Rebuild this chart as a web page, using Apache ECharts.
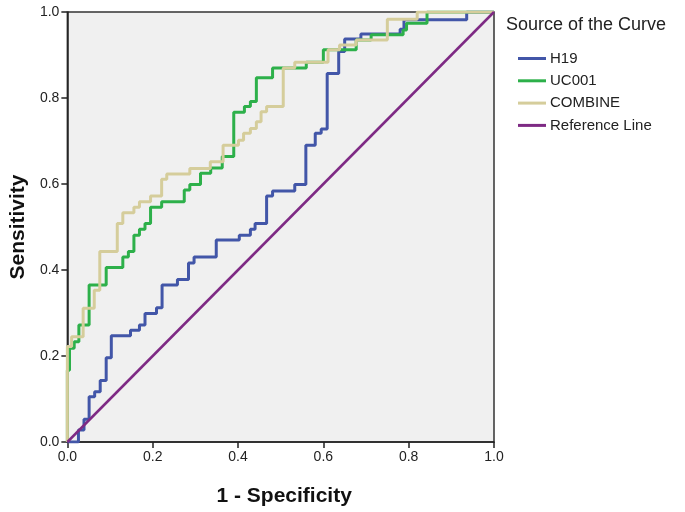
<!DOCTYPE html>
<html>
<head>
<meta charset="utf-8">
<script src="https://cdn.jsdelivr.net/npm/echarts@6/dist/echarts.min.js"></script>
<style>html,body{margin:0;padding:0;background:#fff;}#c{width:685px;height:512px;}</style>
</head>
<body>
<div id="c"></div>
<script>
// Step points: [1 - specificity, sensitivity] after each jump
var h19X = [0,0.026,0.039,0.051,0.064,0.077,0.091,0.103,0.148,0.169,0.182,0.209,0.222,0.258,0.284,0.297,0.349,0.403,0.429,0.44,0.467,0.481,0.533,0.559,0.581,0.595,0.609,0.636,0.650,0.688,0.78,0.789,0.936,1];
var h19Y = [0,0.028,0.053,0.105,0.117,0.143,0.196,0.247,0.26,0.272,0.299,0.312,0.365,0.378,0.416,0.43,0.47,0.481,0.495,0.508,0.572,0.584,0.599,0.69,0.718,0.728,0.857,0.908,0.937,0.949,0.96,0.982,1,1];
var ucX = [0,0,0.005,0.016,0.027,0.051,0.091,0.130,0.143,0.156,0.169,0.182,0.195,0.221,0.274,0.287,0.312,0.336,0.363,0.390,0.415,0.429,0.443,0.481,0.56,0.60,0.677,0.712,0.787,0.795,0.843,1];
var ucY = [0,0.167,0.218,0.233,0.272,0.365,0.406,0.43,0.443,0.481,0.495,0.508,0.546,0.559,0.586,0.599,0.625,0.637,0.664,0.767,0.78,0.792,0.847,0.870,0.883,0.912,0.935,0.947,0.958,0.974,1,1];
var combX = [0,0,0.01,0.037,0.063,0.076,0.117,0.130,0.156,0.169,0.195,0.221,0.233,0.287,0.335,0.365,0.401,0.413,0.429,0.443,0.454,0.467,0.506,0.533,0.611,0.638,0.677,0.75,0.82,1];
var combY = [0,0.222,0.245,0.311,0.353,0.443,0.508,0.533,0.546,0.559,0.572,0.611,0.623,0.636,0.652,0.69,0.702,0.718,0.729,0.745,0.768,0.780,0.870,0.883,0.912,0.923,0.935,0.983,1,1];
var refX = [0,1];
var refY = [0,1];
var seriesNames = ['H19','UC001','COMBINE','Reference Line'];
var colors = ['#4256A8','#2DB04A','#D5CD9B','#7E2A84'];

function pairs(xs, ys){ return xs.map(function(x,i){ return [x, ys[i]]; }); }

var chart = echarts.init(document.getElementById('c'), null, {renderer:'canvas'});
var font = 'Liberation Sans, Arial, sans-serif';
chart.setOption({
  animation:false,
  backgroundColor:'#ffffff',
  title:{text:'Source of the Curve', left:501, top:11, textStyle:{fontFamily:font, fontSize:18, fontWeight:'normal', color:'#222'}},
  legend:{
    orient:'vertical', left:513, top:46, itemWidth:28, itemHeight:3, itemGap:7.3, icon:'rect',
    data:seriesNames,
    textStyle:{fontFamily:font, fontSize:15, color:'#222', padding:[0,0,0,-1]}
  },
  grid:{left:64, right:191, top:12, bottom:70, show:true, backgroundColor:'#F0F0F0', borderColor:'#333', borderWidth:1.5},
  xAxis:{
    type:'value', min:0, max:1, interval:0.2,
    name:'1 - Specificity', nameLocation:'middle', nameGap:44,
    nameTextStyle:{fontFamily:font, fontSize:21, fontWeight:'bold', color:'#111', padding:[0,0,0,7]},
    axisLine:{lineStyle:{color:'#222', width:1.5}},
    axisTick:{length:6, lineStyle:{color:'#222', width:1.5}},
    axisLabel:{fontFamily:font, fontSize:14, color:'#222', margin:8, formatter:function(v){return v.toFixed(1);}},
    splitLine:{show:false}
  },
  yAxis:{
    type:'value', min:0, max:1, interval:0.2,
    name:'Sensitivity', nameLocation:'middle', nameGap:37,
    nameTextStyle:{fontFamily:font, fontSize:21, fontWeight:'bold', color:'#111'},
    axisLine:{show:true, lineStyle:{color:'#222', width:1.5}},
    axisTick:{show:true, length:6, lineStyle:{color:'#222', width:1.5}},
    axisLabel:{fontFamily:font, fontSize:14, color:'#222', margin:8, formatter:function(v){return v.toFixed(1);}},
    splitLine:{show:false}
  },
  series:[
    {name:seriesNames[0], type:'line', step:'end', showSymbol:false, data:pairs(h19X,h19Y), lineStyle:{color:colors[0], width:3}, itemStyle:{color:colors[0]}, z:3},
    {name:seriesNames[1], type:'line', step:'end', showSymbol:false, data:pairs(ucX,ucY), lineStyle:{color:colors[1], width:3}, itemStyle:{color:colors[1]}, z:4},
    {name:seriesNames[2], type:'line', step:'end', showSymbol:false, data:pairs(combX,combY), lineStyle:{color:colors[2], width:3}, itemStyle:{color:colors[2]}, z:5},
    {name:seriesNames[3], type:'line', showSymbol:false, data:pairs(refX,refY), lineStyle:{color:colors[3], width:2.5}, itemStyle:{color:colors[3]}, z:6}
  ]
});
</script>
</body>
</html>
